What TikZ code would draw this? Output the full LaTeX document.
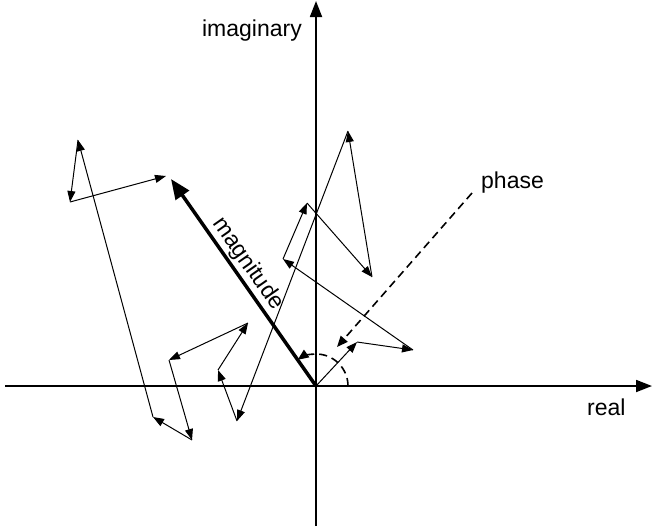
\documentclass[tikz,border=0pt]{standalone}
\usepackage{fontspec}
\setmainfont{Liberation Sans}
\usetikzlibrary{arrows.meta}
\begin{document}
\begin{tikzpicture}[x=1pt,y=-1pt,
  lbl/.style={inner sep=0pt, font=\fontsize{23}{27}\selectfont},
  axisline/.style={line width=1.8pt, draw=black, -{Triangle[length=16pt,width=12pt]}},
  walk/.style={line width=1pt, draw=black, -{Triangle[length=11pt,width=8pt]}},
  mag/.style={line width=3.5pt, -{Triangle[length=20pt,width=16pt]}},
  phaseline/.style={line width=1.6pt, dash pattern=on 8pt off 5pt, -{Triangle[length=11pt,width=9pt]}}]
\useasboundingbox (0,0) rectangle (653,528);
% axes
\coordinate (xl) at (5,386);
\coordinate (xr) at (652,386);
\coordinate (yb) at (316,526);
\coordinate (yt) at (316,1);
\draw[axisline] (xl) -- (xr);
\draw[axisline] (yb) -- (yt);
% random walk
\coordinate (O) at (316,386);
\coordinate (p1) at (357,342);
\coordinate (p2) at (413,350);
\coordinate (p3) at (283,259);
\coordinate (p4) at (307,203);
\coordinate (p5) at (372,277);
\coordinate (p6) at (348,131);
\coordinate (p7) at (237,421);
\coordinate (p8) at (218,370);
\coordinate (p9) at (248,323);
\coordinate (p10) at (169,360);
\coordinate (p11) at (192,440);
\coordinate (p12) at (153,417);
\coordinate (p13) at (78,140);
\coordinate (p14) at (70,202);
\coordinate (p15) at (166,176);
\coordinate (tip) at (171,179);
\draw[walk] (O) -- (p1);
\draw[walk] (p1) -- (p2);
\draw[walk] (p2) -- (p3);
\draw[walk] (p3) -- (p4);
\draw[walk] (p4) -- (p5);
\draw[walk] (p5) -- (p6);
\draw[walk] (p6) -- (p7);
\draw[walk] (p7) -- (p8);
\draw[walk] (p8) -- (p9);
\draw[walk] (p9) -- (p10);
\draw[walk] (p10) -- (p11);
\draw[walk] (p11) -- (p12);
\draw[walk] (p12) -- (p13);
\draw[walk] (p13) -- (p14);
\draw[walk] (p14) -- (p15);
% magnitude
\draw[mag] (O) -- (tip);
\node[lbl, rotate=-55] (magtext) at (248,264) {magnitude};
% phase
\coordinate (ph1) at (472,193);
\coordinate (ph2) at (337,347);
\draw[phaseline] (ph1) -- (ph2);
\coordinate (arcstart) at (348,386);
\draw[phaseline] (arcstart) arc[start angle=0,end angle=-125,radius=32];
% labels
\node[lbl, anchor=base east] (imag) at (302,36) {imaginary};
\node[lbl, anchor=base west] (phase) at (481,188) {phase};
\node[lbl, anchor=base west] (real) at (587,415) {real};
\end{tikzpicture}
\end{document}
